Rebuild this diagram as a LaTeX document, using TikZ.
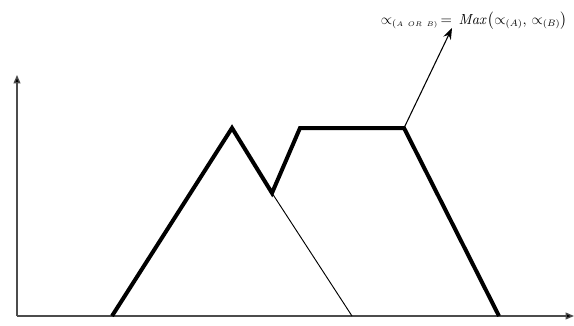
\documentclass[tikz,border=0pt]{standalone}
\usepackage{amsmath}
\usepackage{tikz}
\usetikzlibrary{positioning, arrows.meta}
\tikzset{
  axis/.style={draw=black!70, line width=1pt, -{Triangle[length=2.2mm, width=1.8mm, fill=black]}},
  fuzz/.style={line width=3pt, line join=miter},
  thin/.style={line width=0.7pt},
  ptr/.style={line width=0.8pt, -{Stealth[length=3mm, width=2.2mm]}},
}
\begin{document}
\begin{tikzpicture}[x=0.75pt, y=-0.75pt]
        \useasboundingbox (0,0) rectangle (574,325);
        \coordinate (o) at (17,316);
        \coordinate (ytop) at (17,75);
        \coordinate (xend) at (574,316);
        \coordinate (p0) at (112,316);
        \coordinate (p1) at (232,128);
        \coordinate (p2) at (272,193);
        \coordinate (p3) at (300,128);
        \coordinate (p4) at (404,128);
        \coordinate (p5) at (499,316);
        \coordinate (q) at (352,316);
        \coordinate (tip) at (452,28);
        \node[font=\fontsize{10.5}{12}\selectfont, inner sep=1pt](lbl) at (474,21){$\propto_{(\scriptscriptstyle A\ OR\ B)} \,=\, \mathit{Max}\bigl(\propto_{(A)},\, \propto_{(B)}\bigr)$};
        \draw[axis](o)--(ytop); \draw[axis](o)--(xend);
        \draw[thin](p2)--(q);
        \draw[fuzz](p0)--(p1)--(p2)--(p3)--(p4)--(p5);
        \draw[ptr](p4)--(tip);
      \end{tikzpicture}
\end{document}
